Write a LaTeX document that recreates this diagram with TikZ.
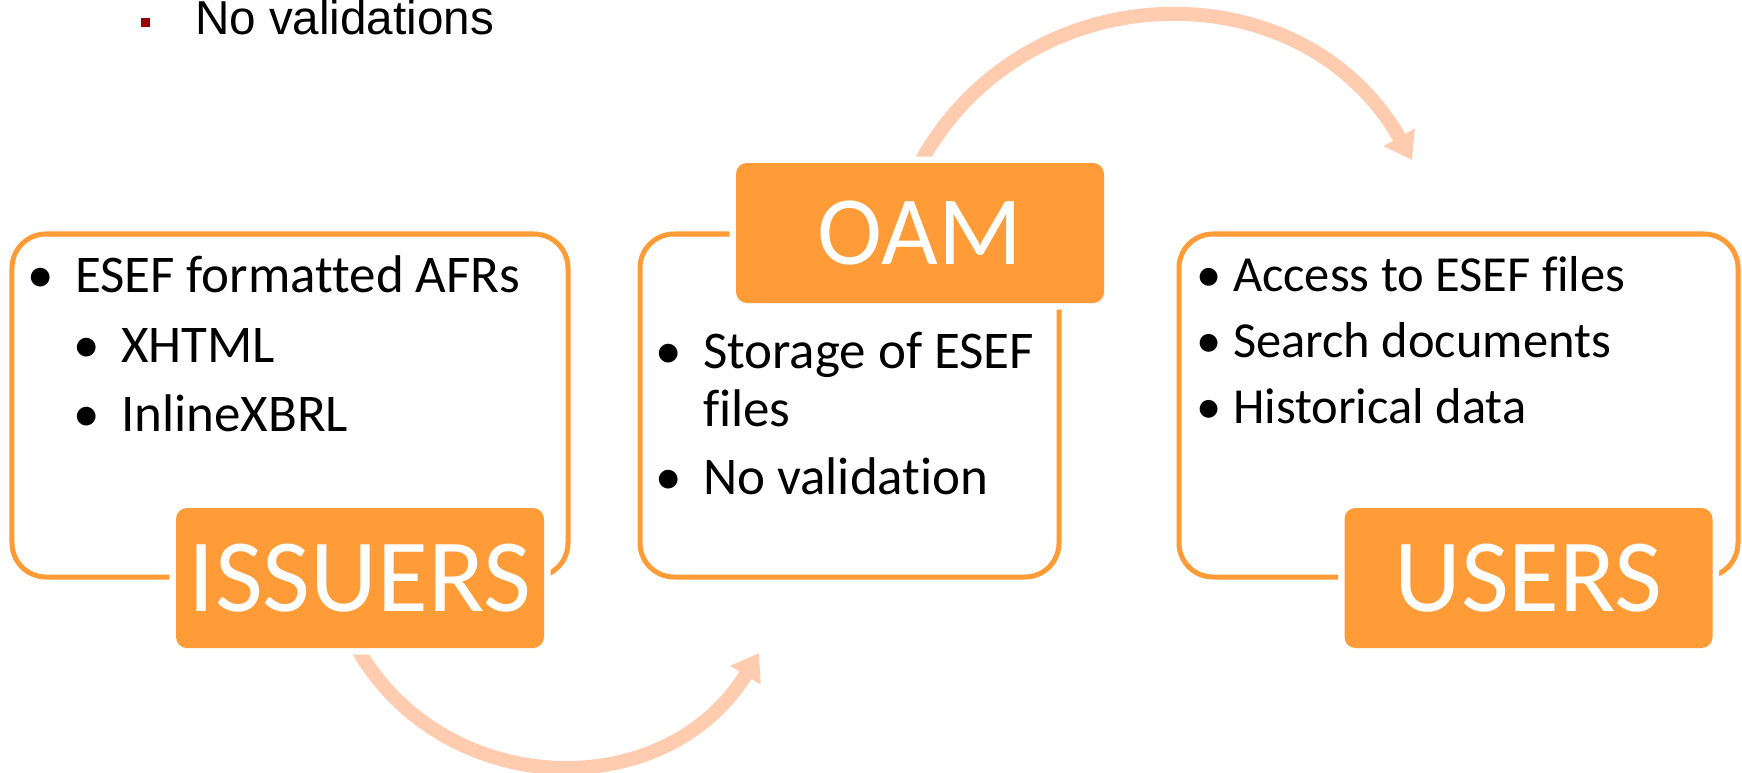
\documentclass[tikz,border=0pt]{standalone}
\usepackage{fontspec}
\setmainfont{Carlito}[Ligatures=NoCommon]
\newfontfamily\arialfont{Liberation Sans}
\usetikzlibrary{arrows.meta}
\definecolor{boxorange}{RGB}{255,156,56}
\definecolor{peach}{RGB}{255,204,176}
\definecolor{bulletred}{RGB}{153,0,0}
\tikzset{
  outlinebox/.style={draw=boxorange, line width=5bp, rounded corners=34bp, minimum height=343bp, inner sep=0pt, outer sep=0pt},
  labelbox/.style={fill=boxorange, text=white, rounded corners=11bp, minimum width=368bp, minimum height=140bp, inner sep=0pt, outer sep=0pt, preaction={draw=white, line width=13bp}},
  labeltext/.style={font=\fontsize{104bp}{110bp}\selectfont},
  bodytext/.style={anchor=base west, inner sep=0pt, outer sep=0pt, font=\fontsize{53bp}{62bp}\selectfont},
  bulletmark/.style={anchor=base, inner sep=0pt, outer sep=0pt, font=\fontsize{53bp}{62bp}\selectfont},
  smalltext/.style={font=\fontsize{50.5bp}{60bp}\selectfont},
  flowarrow/.style={draw=peach, line width=14bp, -{Triangle[length=26bp, width=34bp]}},
}
\begin{document}
\begin{tikzpicture}[x=1bp, y=-1bp]
\useasboundingbox[fill=white] (0,0) rectangle (1742,773);
% outline frames
\node[outlinebox, minimum width=556bp] (issuersframe) at (290,405.5) {};
\node[outlinebox, minimum width=419bp] (oamframe) at (849.5,405.5) {};
\node[outlinebox, minimum width=559bp] (usersframe) at (1458.5,405.5) {};
% flow arrows
\coordinate (a1s) at (353,641);
\coordinate (a1e) at (759,653);
\draw[flowarrow] (a1s) .. controls (438,801) and (664.5,807.4) .. (a1e);
\coordinate (a2s) at (916,171);
\coordinate (a2e) at (1412,160);
\draw[flowarrow] (a2s) .. controls (1018,-29.5) and (1301,-36) .. (a2e);
% label boxes
\node[labelbox, labeltext] (issuers) at (360,578) {ISSUERS};
\node[labelbox, labeltext, font=\fontsize{98bp}{104bp}\selectfont] (oam) at (920,233) {OAM};
\node[labelbox, labeltext] (users) at (1528.5,578) {USERS};
% left texts
\node[bulletmark] (b11) at (41,292) {•};
\node[bodytext] (t11) at (75,292) {ESEF formatted AFRs};
\node[bulletmark] (b12) at (87,362) {•};
\node[bodytext] (t12) at (121,362) {XHTML};
\node[bulletmark] (b13) at (87,431) {•};
\node[bodytext] (t13) at (121,431) {InlineXBRL};
% middle texts
\node[bulletmark] (b21) at (669,368) {•};
\node[bodytext] (t21) at (703,368) {Storage of ESEF};
\node[bodytext] (t21b) at (703,426) {files};
\node[bulletmark] (b22) at (669,494) {•};
\node[bodytext] (t22) at (703,494) {No validation};
% right texts
\node[bulletmark, smalltext] (b31) at (1209,291) {•};
\node[bodytext, smalltext] (t31) at (1233,291) {Access to ESEF files};
\node[bulletmark, smalltext] (b32) at (1209,357) {•};
\node[bodytext, smalltext] (t32) at (1233,357) {Search documents};
\node[bulletmark, smalltext] (b33) at (1209,423) {•};
\node[bodytext, smalltext] (t33) at (1233,423) {Historical data};
% top fragment
\node[fill=bulletred, minimum size=9bp, inner sep=0pt] (sq) at (145.5,22.5) {};
\node[anchor=base west, inner sep=0pt, outer sep=0pt, font=\arialfont\fontsize{47.6bp}{50bp}\selectfont] (nv) at (195,35) {No validations};
\end{tikzpicture}
\end{document}
